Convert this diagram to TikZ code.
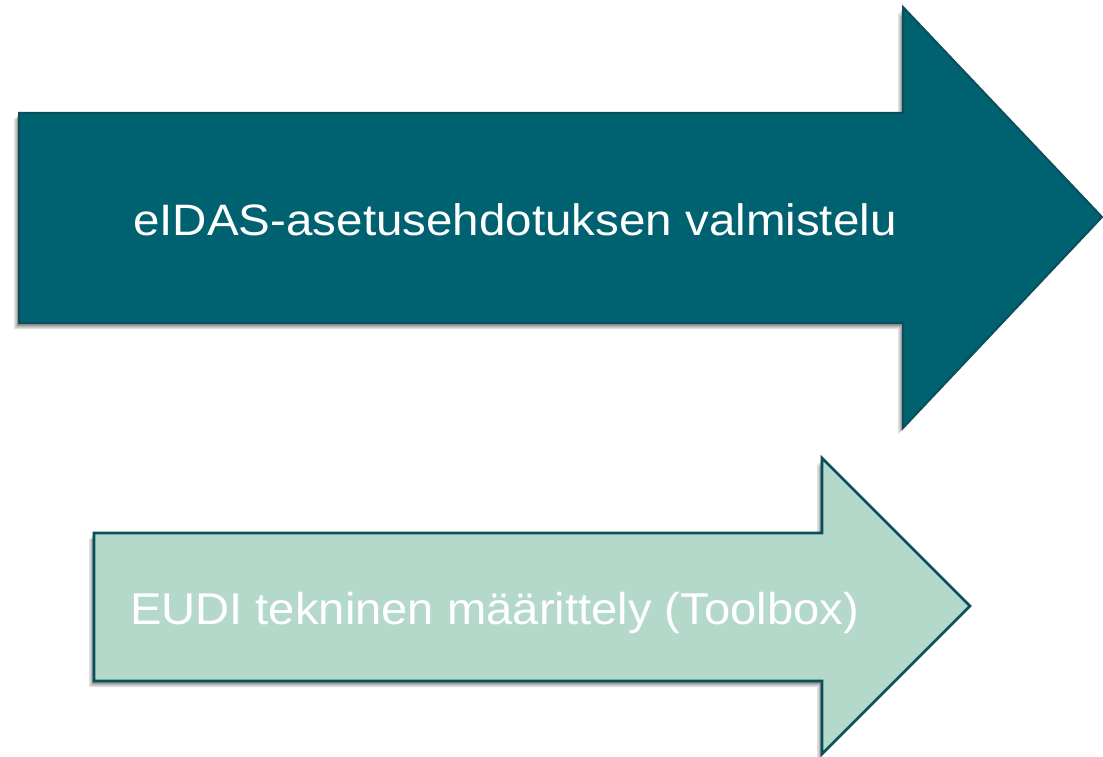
\documentclass[tikz,border=0pt]{standalone}
\usepackage{fontspec}
\setmainfont{Liberation Sans}
\usetikzlibrary{shadows}
\definecolor{tealfill}{HTML}{006170}
\definecolor{tealline}{HTML}{0B4F5B}
\definecolor{mintfill}{HTML}{B4D9CB}
\tikzset{
  arrowshadow/.style={
    drop shadow={shadow xshift=-5pt, shadow yshift=-6pt, opacity=0.12, fill=black},
    drop shadow={shadow xshift=-3.5pt, shadow yshift=-4.5pt, opacity=0.15, fill=black},
    drop shadow={shadow xshift=-2pt, shadow yshift=-3pt, opacity=0.2, fill=black}},
  bigarrow/.style={fill=tealfill, draw=tealline, line width=2pt, line join=miter, arrowshadow},
  smallarrow/.style={fill=mintfill, draw=tealline, line width=2.6pt, line join=miter, arrowshadow},
  label/.style={text=white, inner sep=0pt, anchor=base, font=\fontsize{44}{50}\selectfont}
}
\begin{document}
\begin{tikzpicture}[x=1pt, y=-1pt]
\useasboundingbox (0,0) rectangle (1103,757);
\fill[white] (0,0) rectangle (1103,757);
% big arrow
\path[bigarrow] (19,113) -- (903,113) -- (903,7) -- (1102,217) -- (903,428) -- (903,323) -- (19,323) -- cycle;
% small arrow
\path[smallarrow] (94,533) -- (822,533) -- (822,458) -- (970,606) -- (822,754) -- (822,681) -- (94,681) -- cycle;
\node[label] (t1) at (515,235) {\scalebox{1.08}[1]{eIDAS-asetusehdotuksen valmistelu}};
\node[label, font=\fontsize{44.5}{50}\selectfont] (t2) at (494.5,624) {\scalebox{1.06}[1]{EUDI tekninen määrittely (Toolbox)}};
\end{tikzpicture}
\end{document}
